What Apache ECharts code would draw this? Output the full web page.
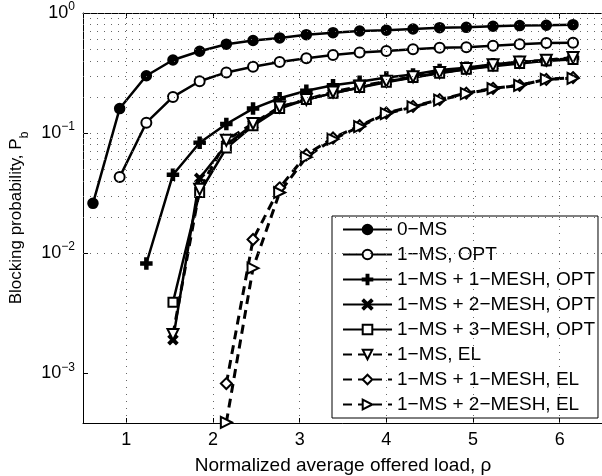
<!DOCTYPE html>
<html lang="en">
<head>
    <meta charset="UTF-8">
    <title>Blocking probability</title>
    <script src="https://cdn.jsdelivr.net/npm/echarts@6/dist/echarts.min.js"></script>
    <style>
        html, body { margin: 0; padding: 0; background: #fff; }
    </style>
</head>
<body>
    <div id="ec" style="width:602px;height:476px"></div>
</body>
<script>
    // offered load points (same grid for every curve)
    var loads = [0.615, 0.923, 1.231, 1.538, 1.846, 2.154, 2.462, 2.769, 3.077, 3.385,
                 3.692, 4.0, 4.308, 4.615, 4.923, 5.231, 5.538, 5.846, 6.154]

    // blocking probabilities, each starts at a later load point
    var ms0      = [0.026, 0.16, 0.30, 0.406, 0.48, 0.55, 0.59, 0.62, 0.66, 0.686,
                    0.708, 0.72, 0.735, 0.755, 0.76, 0.775, 0.785, 0.79, 0.80]
    var ms1Opt   = [0.043, 0.122, 0.20, 0.27, 0.32, 0.357, 0.39, 0.42, 0.447,
                    0.468, 0.482, 0.50, 0.514, 0.518, 0.534, 0.548, 0.562, 0.566]
    var mesh1Opt = [0.0082, 0.045, 0.083, 0.119, 0.16, 0.195, 0.225, 0.25, 0.268,
                    0.29, 0.308, 0.335, 0.35, 0.375, 0.39, 0.405, 0.42]
    var mesh2Opt = [0.0019, 0.042, 0.08, 0.118, 0.165, 0.19, 0.215, 0.24, 0.27,
                    0.29, 0.32, 0.34, 0.365, 0.385, 0.40, 0.415]
    var mesh3Opt = [0.0039, 0.032, 0.075, 0.115, 0.16, 0.19, 0.215, 0.24, 0.265,
                    0.29, 0.315, 0.34, 0.36, 0.38, 0.40, 0.41]
    var ms1El    = [0.0021, 0.034, 0.087, 0.12, 0.165, 0.19, 0.22, 0.245, 0.27,
                    0.295, 0.32, 0.345, 0.37, 0.39, 0.405, 0.425]
    var mesh1El  = [0.00082, 0.013, 0.035, 0.066, 0.091, 0.115, 0.147, 0.167, 0.19,
                    0.215, 0.236, 0.25, 0.28, 0.29]
    var mesh2El  = [0.00039, 0.0075, 0.032, 0.063, 0.089, 0.113, 0.145, 0.165, 0.188,
                    0.213, 0.234, 0.25, 0.28, 0.286]

    var xTicks = [1, 2, 3, 4, 5, 6]
    var yTicks = [0.001, 0.01, 0.1, 1]
    var yMinor = [0.0004, 0.0005, 0.0006, 0.0007, 0.0008, 0.0009,
                  0.002, 0.003, 0.004, 0.005, 0.006, 0.007, 0.008, 0.009,
                  0.02, 0.03, 0.04, 0.05, 0.06, 0.07, 0.08, 0.09,
                  0.2, 0.3, 0.4, 0.5, 0.6, 0.7, 0.8, 0.9]

    function pairs(vals) {
        var off = loads.length - vals.length
        return vals.map(function(v, i) { return [loads[off + i], v] })
    }

    var plusPath = 'path://M-1.2,-6H1.2V-1.2H6V1.2H1.2V6H-1.2V1.2H-6V-1.2H-1.2Z'
    var crossPath = 'path://M-4.2,-5.6L0,-1.4L4.2,-5.6L5.6,-4.2L1.4,0L5.6,4.2L4.2,5.6L0,1.4L-4.2,5.6L-5.6,4.2L-1.4,0L-5.6,-4.2Z'

    function mkSeries(name, vals, symbol, size, dashed, rotate) {
        return {
            name: name,
            type: 'line',
            data: pairs(vals),
            symbol: symbol,
            symbolSize: size,
            symbolRotate: rotate || 0,
            showAllSymbol: true,
            color: '#000',
            lineStyle: { color: '#000', width: dashed ? 3 : 2.5, type: dashed ? [9, 6] : 'solid' },
            itemStyle: { color: '#000', borderColor: '#000', borderWidth: 2.5 },
            emphasis: { disabled: true },
            z: 3
        }
    }

    var gridLines = []
    xTicks.forEach(function(v) { gridLines.push({ xAxis: v }) })
    yTicks.concat(yMinor).forEach(function(v) { gridLines.push({ yAxis: v }) })

    var series = [
        mkSeries('0\u2212MS', ms0, 'circle', 9, false),
        mkSeries('1\u2212MS, OPT', ms1Opt, 'emptyCircle', 10, false),
        mkSeries('1\u2212MS + 1\u2212MESH, OPT', mesh1Opt, plusPath, 10, false),
        mkSeries('1\u2212MS + 2\u2212MESH, OPT', mesh2Opt, crossPath, 8, false),
        mkSeries('1\u2212MS + 3\u2212MESH, OPT', mesh3Opt, 'emptyRect', 9, false),
        mkSeries('1\u2212MS, EL', ms1El, 'emptyTriangle', 11, true, 180),
        mkSeries('1\u2212MS + 1\u2212MESH, EL', mesh1El, 'emptyDiamond', 11, true),
        mkSeries('1\u2212MS + 2\u2212MESH, EL', mesh2El, 'emptyTriangle', 11, true, -90),
        {
            type: 'line',
            data: [],
            silent: true,
            markLine: {
                silent: true,
                symbol: 'none',
                label: { show: false },
                lineStyle: { color: '#666', width: 1, type: [1, 6] },
                data: gridLines
            },
            z: 1
        }
    ]

    var chart = echarts.init(document.getElementById('ec'))
    chart.setOption({
        animation: false,
        backgroundColor: '#fff',
        textStyle: { fontFamily: 'Liberation Sans, Arial, sans-serif', color: '#000' },
        grid: { left: 83, right: -1, top: 13, bottom: 53, containLabel: false, outerBoundsMode: 'none' },
        legend: {
            orient: 'vertical',
            left: 332,
            top: 216,
            itemWidth: 49,
            itemHeight: 12,
            itemGap: 6,
            padding: [4, 3, 4, 10],
            borderColor: '#000',
            borderWidth: 1,
            backgroundColor: '#fff',
            textStyle: { fontSize: 19, color: '#000', fontFamily: 'Liberation Sans, Arial, sans-serif' },
            data: series.slice(0, 8).map(function(s) { return s.name })
        },
        xAxis: [{
            type: 'value',
            min: 0.5,
            max: 6.5,
            name: 'Normalized average offered load, \u03c1',
            nameLocation: 'middle',
            nameGap: 33,
            nameTextStyle: { fontSize: 19, color: '#000' },
            axisLine: { show: true, lineStyle: { color: '#000', width: 1 } },
            axisTick: { inside: true, length: 5, lineStyle: { color: '#000' }, customValues: xTicks },
            axisLabel: { fontSize: 18, color: '#000', margin: 8, customValues: xTicks },
            splitLine: { show: false }
        }, {
            type: 'value',
            position: 'top',
            min: 0.5,
            max: 6.5,
            axisLine: { show: true, lineStyle: { color: '#000', width: 1 } },
            axisTick: { inside: true, length: 5, lineStyle: { color: '#000' }, customValues: xTicks },
            axisLabel: { show: false },
            splitLine: { show: false }
        }],
        yAxis: {
            type: 'log',
            logBase: 10,
            min: 3.85e-4,
            max: 1,
            name: 'Blocking probability, P{sub|b}',
            nameLocation: 'middle',
            nameGap: 54,
            nameTextStyle: {
                fontSize: 17, color: '#000',
                rich: { sub: { fontSize: 12, verticalAlign: 'bottom', padding: [0, 0, -6, 0] } }
            },
            axisLine: { show: true, lineStyle: { color: '#000', width: 1 } },
            axisTick: { inside: true, length: 5, lineStyle: { color: '#000' }, customValues: yTicks },
            axisLabel: {
                color: '#000',
                margin: 8,
                customValues: yTicks,
                formatter: function(v) {
                    var e = Math.round(Math.log10(v))
                    return '{b|10}{s|' + (e < 0 ? '\u2212' + (-e) : e) + '}'
                },
                rich: {
                    b: { fontSize: 18, color: '#000' },
                    s: { fontSize: 12, color: '#000', verticalAlign: 'top', padding: [0, 0, 12, 0] }
                }
            },
            splitLine: { show: false }
        },
        series: series
    })
</script>
</html>
